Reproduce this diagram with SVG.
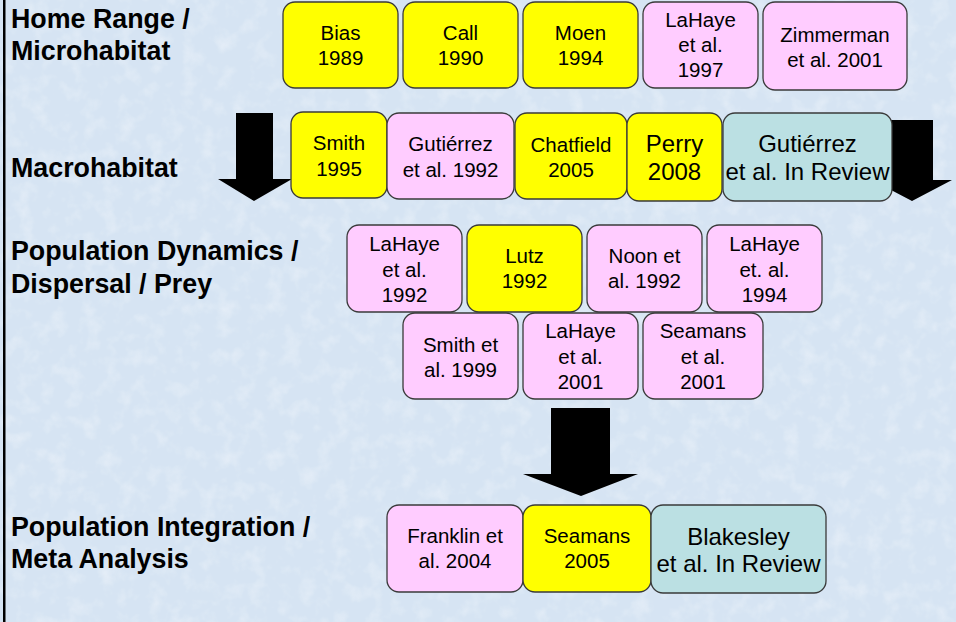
<svg xmlns="http://www.w3.org/2000/svg" width="956" height="622" viewBox="0 0 956 622">
<defs>
<filter id="tex" x="0" y="0" width="100%" height="100%">
<feTurbulence type="fractalNoise" baseFrequency="0.06" numOctaves="3" seed="4" result="n"/>
<feColorMatrix in="n" type="matrix" values="0 0 0 0 1  0 0 0 0 1  0 0 0 0 1  0 0 0 1.6 -0.75"/>
</filter>
</defs>
<style>
.lbl{font-family:"Liberation Sans",Arial,sans-serif;font-weight:bold;font-size:26.8px;fill:#000}
.t{font-family:"Liberation Sans",Arial,sans-serif;font-size:20.5px;fill:#000;text-anchor:middle}
.tl{font-family:"Liberation Sans",Arial,sans-serif;font-size:24px;fill:#000;text-anchor:middle}
.box{stroke:#3a3a3a;stroke-width:1.3}
.y{fill:#ffff00}
.p{fill:#ffccff}
.b{fill:#bbe0e3}
.arrow{fill:#000}
</style>
<rect x="0" y="0" width="956" height="622" fill="#d6e4f3"/>
<rect x="0" y="0" width="956" height="622" filter="url(#tex)" opacity="0.45"/>
<rect x="3" y="0" width="2.5" height="622" fill="#000"/>

<g id="labels">
<text class="lbl" x="11" y="28">Home Range /</text>
<text class="lbl" x="11" y="60">Microhabitat</text>
<text class="lbl" x="11" y="177">Macrohabitat</text>
<text class="lbl" x="11" y="260">Population Dynamics /</text>
<text class="lbl" x="11" y="293">Dispersal / Prey</text>
<text class="lbl" x="11" y="536">Population Integration /</text>
<text class="lbl" x="11" y="568">Meta Analysis</text>
</g>

<g id="connectors">
<polygon class="arrow" points="236,113 273,113 273,179 292,179 254,201 218,179 236,179"/>
<polygon class="arrow" points="891,120 933,120 933,180 952,180 912,201 872,180 891,180"/>
<polygon class="arrow" points="551,408 610,408 610,474 638,474 581,496 523,474 551,474"/>
</g>

<g id="bias1989"><rect class="box y" x="283" y="2" width="115" height="86" rx="12"/><text class="t" x="340.5" y="40">Bias</text><text class="t" x="340.5" y="65">1989</text></g>
<g id="call1990"><rect class="box y" x="403" y="2" width="115" height="86" rx="12"/><text class="t" x="460.5" y="40">Call</text><text class="t" x="460.5" y="65">1990</text></g>
<g id="moen1994"><rect class="box y" x="523" y="2" width="115" height="86" rx="12"/><text class="t" x="580.5" y="40">Moen</text><text class="t" x="580.5" y="65">1994</text></g>
<g id="lahaye1997"><rect class="box p" x="643" y="2" width="115" height="86" rx="12"/><text class="t" x="700.5" y="27">LaHaye</text><text class="t" x="700.5" y="52">et al.</text><text class="t" x="700.5" y="77">1997</text></g>
<g id="zimmerman2001"><rect class="box p" x="763" y="2" width="144" height="88" rx="12"/><text class="t" x="835" y="42">Zimmerman</text><text class="t" x="835" y="67">et al. 2001</text></g>

<g id="smith1995"><rect class="box y" x="291" y="112" width="96" height="86" rx="12"/><text class="t" x="339" y="150">Smith</text><text class="t" x="339" y="176">1995</text></g>
<g id="gutierrez1992"><rect class="box p" x="387" y="113" width="127" height="86" rx="12"/><text class="t" x="450.5" y="151">Gutiérrez</text><text class="t" x="450.5" y="177">et al. 1992</text></g>
<g id="chatfield2005"><rect class="box y" x="515" y="113" width="112" height="86" rx="12"/><text class="t" x="571" y="152">Chatfield</text><text class="t" x="571" y="177">2005</text></g>
<g id="perry2008"><rect class="box y" x="627" y="113" width="95" height="88" rx="12"/><text class="tl" x="674.5" y="152">Perry</text><text class="tl" x="674.5" y="180">2008</text></g>
<g id="gutierrezReview"><rect class="box b" x="723" y="113" width="169" height="88" rx="12"/><text class="tl" x="807.5" y="152">Gutiérrez</text><text class="tl" x="807.5" y="180">et al. In Review</text></g>

<g id="lahaye1992"><rect class="box p" x="347" y="225" width="115" height="87" rx="12"/><text class="t" x="404.5" y="251">LaHaye</text><text class="t" x="404.5" y="277">et al.</text><text class="t" x="404.5" y="302">1992</text></g>
<g id="lutz1992"><rect class="box y" x="467" y="225" width="115" height="87" rx="12"/><text class="t" x="524.5" y="263">Lutz</text><text class="t" x="524.5" y="288">1992</text></g>
<g id="noon1992"><rect class="box p" x="587" y="225" width="115" height="87" rx="12"/><text class="t" x="644.5" y="263">Noon et</text><text class="t" x="644.5" y="288">al. 1992</text></g>
<g id="lahaye1994"><rect class="box p" x="707" y="225" width="115" height="87" rx="12"/><text class="t" x="764.5" y="251">LaHaye</text><text class="t" x="764.5" y="277">et. al.</text><text class="t" x="764.5" y="302">1994</text></g>

<g id="smith1999"><rect class="box p" x="403" y="313" width="115" height="86" rx="12"/><text class="t" x="460.5" y="352">Smith et</text><text class="t" x="460.5" y="377">al. 1999</text></g>
<g id="lahaye2001"><rect class="box p" x="523" y="313" width="115" height="86" rx="12"/><text class="t" x="580.5" y="338">LaHaye</text><text class="t" x="580.5" y="364">et al.</text><text class="t" x="580.5" y="389">2001</text></g>
<g id="seamans2001"><rect class="box p" x="643" y="313" width="120" height="86" rx="12"/><text class="t" x="703" y="338">Seamans</text><text class="t" x="703" y="364">et al.</text><text class="t" x="703" y="389">2001</text></g>

<g id="franklin2004"><rect class="box p" x="387" y="505" width="136" height="87" rx="12"/><text class="t" x="455" y="543">Franklin et</text><text class="t" x="455" y="568">al. 2004</text></g>
<g id="seamans2005"><rect class="box y" x="523" y="505" width="128" height="87" rx="12"/><text class="t" x="587" y="543">Seamans</text><text class="t" x="587" y="568">2005</text></g>
<g id="blakesleyReview"><rect class="box b" x="651" y="505" width="175" height="88" rx="12"/><text class="tl" x="738.5" y="545">Blakesley</text><text class="tl" x="738.5" y="572">et al. In Review</text></g>
</svg>
